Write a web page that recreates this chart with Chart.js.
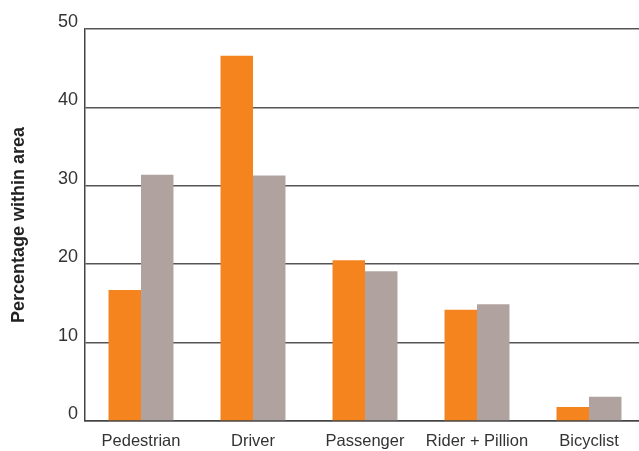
<!DOCTYPE html>
<html lang="en">
<head>
  <meta charset="UTF-8">
  <title>Percentage within area</title>
  <script src="https://cdn.jsdelivr.net/npm/chart.js"></script>
  <style>
    html, body { margin: 0; padding: 0; background: #fff; overflow: hidden; }
    .wrap { width: 645px; height: 451px; }
  </style>
</head>
<body>
  <div class="wrap"><canvas id="areaChart" width="645" height="451"></canvas></div>

  <script>
    // road user categories and the two series (percent within area)
    const categories = ['Pedestrian', 'Driver', 'Passenger', 'Rider + Pillion', 'Bicyclist'];
    const seriesA = [16.7, 46.6, 20.5, 14.2, 1.8];
    const seriesB = [31.4, 31.3, 19.1, 14.9, 3.1];
    const yTicks = [0, 10, 20, 30, 40, 50];

    const ctx = document.getElementById('areaChart').getContext('2d');
    new Chart(ctx, {
      type: 'bar',
      data: {
        labels: categories,
        datasets: [
          { label: 'Area A', data: seriesA, backgroundColor: '#f5841f' },
          { label: 'Area B', data: seriesB, backgroundColor: '#b0a39f' }
        ]
      },
      options: {
        responsive: false,
        animation: false,
        categoryPercentage: 0.58,
        barPercentage: 1,
        layout: { padding: { top: 29, right: 0, left: 0, bottom: 0 } },
        plugins: { legend: { display: false }, tooltip: { enabled: false } },
        scales: {
          x: {
            grid: { display: false, drawTicks: false },
            border: { display: true, color: '#444', width: 1.5 },
            ticks: {
              color: '#333',
              padding: 11,
              font: { family: 'Liberation Sans', size: 16.5 },
              maxRotation: 0
            },
            afterFit: s => { s.height = 30; }
          },
          y: {
            min: 0,
            max: 50,
            afterBuildTicks: s => { s.ticks = yTicks.map(v => ({ value: v })); },
            grid: { color: '#555', lineWidth: 1.5, drawTicks: false },
            border: { display: true, color: '#444', width: 1.5 },
            ticks: {
              color: '#333',
              padding: 7,
              labelOffset: -7,
              font: { family: 'Liberation Sans', size: 18 }
            },
            title: {
              display: true,
              text: 'Percentage within area',
              color: '#222',
              padding: { top: 8, bottom: 6 },
              font: { family: 'Liberation Sans', size: 18, weight: 'bold' }
            },
            afterFit: s => { s.width = 85; }
          }
        }
      }
    });
  </script>
</body>
</html>
